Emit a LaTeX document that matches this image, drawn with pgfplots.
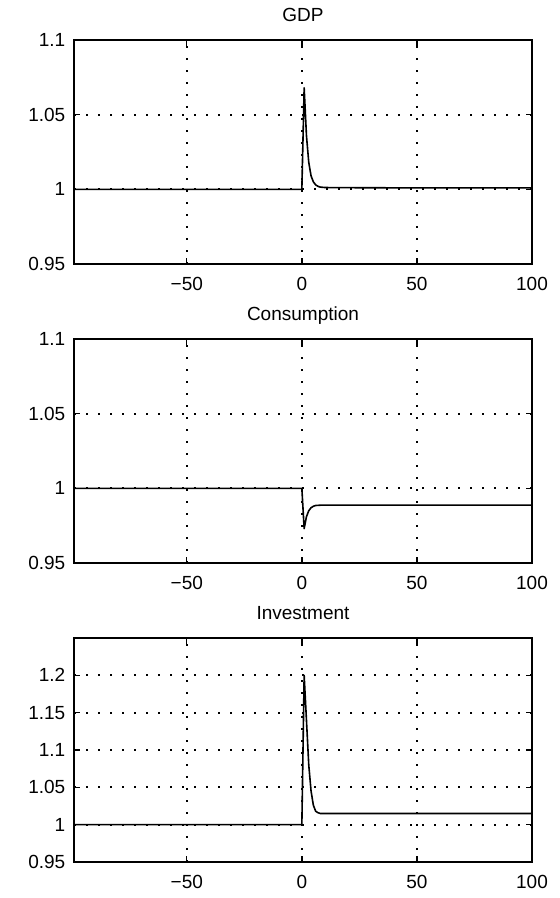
\documentclass[border=0pt]{standalone}
\usepackage{fontspec}
\setmainfont{Liberation Sans}
\usepackage{pgfplots}
\pgfplotsset{compat=1.18}
\pgfplotsset{
  mlab/.style={
    scale only axis,
    width=229pt, height=112pt,
    anchor=south west,
    xmin=-99, xmax=100,
    xtick={-50,0,50,100},
    xticklabels={−50,0,50,100},
    grid=major,
    major grid style={black, line width=0.85pt, dash pattern=on 1pt off 5pt},
    axis line style={black, line width=0.9pt},
    tick align=inside,
    xtick pos=both, ytick pos=both,
    major tick length=3pt,
    tick style={black, line width=0.7pt},
    xticklabel style={yshift=-3.5pt},
    yticklabel style={xshift=-1pt},
    every axis title shift=0pt,
    title style={at={(0.5,1)}, anchor=base, yshift=9pt},
  },
  series/.style={black, line width=0.8pt, line join=round, mark=none},
}
\begin{document}
\fontsize{9.5}{11}\selectfont
\begin{tikzpicture}
\useasboundingbox (0,0) rectangle (280pt,449pt);

% GDP
\begin{axis}[mlab, at={(37pt,317pt)},
  ymin=0.95, ymax=1.1,
  ytick={0.95,1,1.05,1.1}, yticklabels={0.95,1,1.05,1.1},
  title={GDP}]
\addplot[series] coordinates {
(-99,1) (0,1) (1,1.068) (2,1.036) (3,1.018) (4,1.009) (5,1.005) (6,1.003)
(7,1.002) (8,1.0015) (10,1.0012) (20,1.0011) (40,1.001) (60,1.001) (80,1.001) (100,1.001)};
\end{axis}

% Consumption
\begin{axis}[mlab, at={(37pt,167.5pt)},
  ymin=0.95, ymax=1.1,
  ytick={0.95,1,1.05,1.1}, yticklabels={0.95,1,1.05,1.1},
  title={Consumption}]
\addplot[series] coordinates {
(-99,1) (0,1) (1,0.973) (2,0.981) (3,0.985) (4,0.987) (5,0.988) (6,0.9885)
(8,0.9887) (20,0.9888) (60,0.9888) (100,0.9888)};
\end{axis}

% Investment
\begin{axis}[mlab, at={(37pt,18pt)},
  ymin=0.95, ymax=1.25,
  ytick={0.95,1,1.05,1.1,1.15,1.2}, yticklabels={0.95,1,1.05,1.1,1.15,1.2},
  title={Investment}]
\addplot[series] coordinates {
(-99,1) (0,1) (1,1.2) (2,1.14) (3,1.08) (4,1.045) (5,1.026) (6,1.018)
(7,1.016) (8,1.015) (10,1.015) (40,1.015) (100,1.015)};
\end{axis}
\end{tikzpicture}
\end{document}
